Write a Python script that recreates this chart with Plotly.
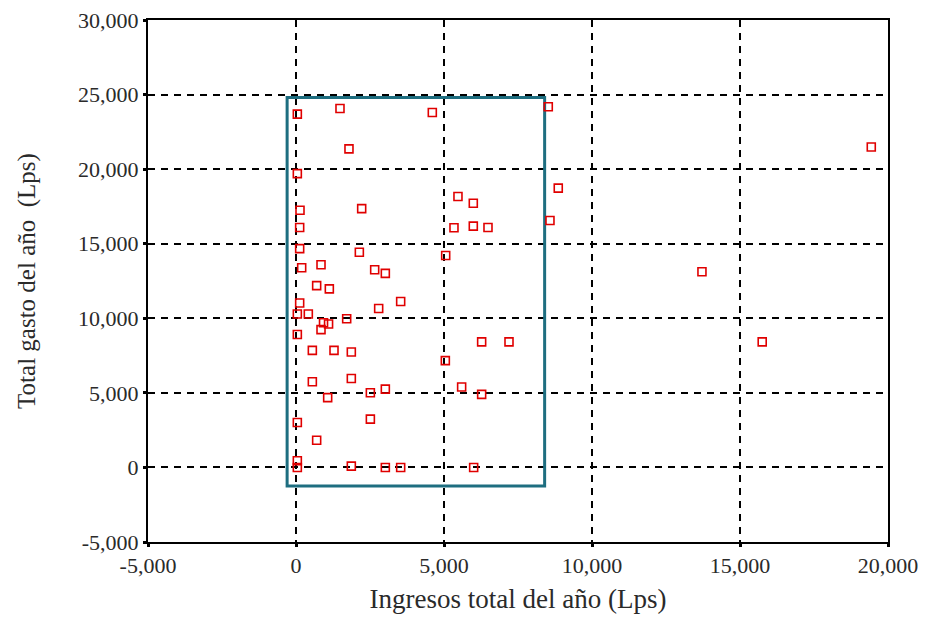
import plotly.graph_objects as go

# Income (x) and expenditure (y) per household, in Lps
ingresos = [45, 1486, 4605, 8523, 1790, 45, 8860, 5472, 5990, 135, 2219, 8580,
            124, 5337, 5990, 6486, 124, 2140, 5057, 192, 845, 2658, 3018,
            698, 1126, 124, 3536, 2793, 45, 416, 1712, 930, 1100, 845, 45,
            6272, 7196, 552, 1284, 1869, 5045, 552, 1869, 5596, 3018, 2512,
            6272, 1070, 2512, 45, 698, 45, 45, 1869, 3018, 3536, 6002,
            19435, 13715, 15750]
gastos = [23690, 24070, 23800, 24180, 21360, 19700, 18730, 18170, 17710, 17240, 17350, 16560,
          16090, 16070, 16180, 16090, 14670, 14430, 14210, 13390, 13590, 13250, 13010,
          12190, 11970, 11020, 11125, 10660, 10290, 10290, 9970, 9700, 9620, 9240, 8910,
          8420, 8420, 7850, 7850, 7740, 7160, 5740, 5960, 5390, 5250, 5010,
          4900, 4680, 3240, 3010, 1820, 445, 0, 90, 0, 0, 0,
          21480, 13120, 8420]

# Highlighted region (data units)
box_x = [-300, 8400]
box_y = [-1250, 24800]

x_ticks = [-5000, 0, 5000, 10000, 15000, 20000]
x_tick_labels = ["-5,000", "0", "5,000", "10,000", "15,000", "20,000"]
y_ticks = [-5000, 0, 5000, 10000, 15000, 20000, 25000, 30000]
y_tick_labels = ["-5,000", "0", "5,000", "10,000", "15,000", "20,000", "25,000", "30,000"]

fig = go.Figure()
fig.add_trace(go.Scatter(
    x=ingresos, y=gastos, mode="markers",
    marker=dict(symbol="square-open", size=8, color="#E00000", line=dict(width=1.6, color="#E00000")),
    showlegend=False, hoverinfo="x+y"))

fig.add_shape(type="rect", xref="x", yref="y",
              x0=box_x[0], x1=box_x[1], y0=box_y[0], y1=box_y[1],
              line=dict(color="#1E6E80", width=3), layer="between")

font_family = "Liberation Serif, Times New Roman, serif"
axis_common = dict(
    showline=True, linecolor="black", linewidth=2, mirror=True,
    ticks="outside", ticklen=3, tickwidth=3, tickcolor="black",
    showgrid=True, gridcolor="black", gridwidth=1.5, griddash="7px,6px",
    zeroline=False, automargin=False, ticklabeloverflow="allow",
    tickfont=dict(family=font_family, size=22, color="#2a2a2a"),
)

fig.update_xaxes(range=[-5000, 20000], tickvals=x_ticks, ticktext=x_tick_labels, **axis_common,
                 title=dict(text="Ingresos total del año (Lps)", standoff=12,
                            font=dict(family=font_family, size=27, color="#2a2a2a")))
fig.update_yaxes(range=[-5000, 30000], tickvals=y_ticks, ticktext=y_tick_labels, **axis_common,
                 title=dict(text="Total gasto del año  (Lps)", standoff=35,
                            font=dict(family=font_family, size=25, color="#2a2a2a")))

fig.update_layout(
    width=935, height=625,
    margin=dict(l=140, r=55, t=12, b=91),
    plot_bgcolor="white", paper_bgcolor="white",
)

fig.write_html("out.html")
